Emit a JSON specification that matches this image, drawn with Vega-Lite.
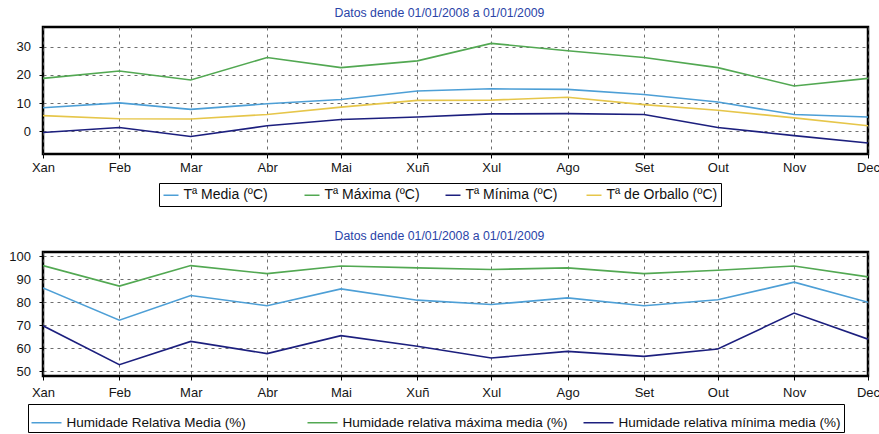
{
  "$schema": "https://vega.github.io/schema/vega-lite/v6.json",
  "padding": {"left": 7, "top": 5, "right": 0, "bottom": 0},
  "background": "white",
  "columns": 1,
  "spacing": 20,
  "datasets": {
    "temp": [
      {"date": "2008-01-01", "serie": "Tª Media  (ºC)", "valor": 8.4},
      {"date": "2008-02-01", "serie": "Tª Media  (ºC)", "valor": 10.1},
      {"date": "2008-03-01", "serie": "Tª Media  (ºC)", "valor": 7.8},
      {"date": "2008-04-01", "serie": "Tª Media  (ºC)", "valor": 9.8},
      {"date": "2008-05-01", "serie": "Tª Media  (ºC)", "valor": 11.3},
      {"date": "2008-06-01", "serie": "Tª Media  (ºC)", "valor": 14.3},
      {"date": "2008-07-01", "serie": "Tª Media  (ºC)", "valor": 15.1},
      {"date": "2008-08-01", "serie": "Tª Media  (ºC)", "valor": 14.9},
      {"date": "2008-09-01", "serie": "Tª Media  (ºC)", "valor": 13.1},
      {"date": "2008-10-01", "serie": "Tª Media  (ºC)", "valor": 10.4},
      {"date": "2008-11-01", "serie": "Tª Media  (ºC)", "valor": 6.0},
      {"date": "2008-12-01", "serie": "Tª Media  (ºC)", "valor": 5.1},
      {"date": "2008-01-01", "serie": "Tª Máxima  (ºC)", "valor": 18.8},
      {"date": "2008-02-01", "serie": "Tª Máxima  (ºC)", "valor": 21.4},
      {"date": "2008-03-01", "serie": "Tª Máxima  (ºC)", "valor": 18.2},
      {"date": "2008-04-01", "serie": "Tª Máxima  (ºC)", "valor": 26.2},
      {"date": "2008-05-01", "serie": "Tª Máxima  (ºC)", "valor": 22.6},
      {"date": "2008-06-01", "serie": "Tª Máxima  (ºC)", "valor": 25.0},
      {"date": "2008-07-01", "serie": "Tª Máxima  (ºC)", "valor": 31.2},
      {"date": "2008-08-01", "serie": "Tª Máxima  (ºC)", "valor": 28.6},
      {"date": "2008-09-01", "serie": "Tª Máxima  (ºC)", "valor": 26.2},
      {"date": "2008-10-01", "serie": "Tª Máxima  (ºC)", "valor": 22.6},
      {"date": "2008-11-01", "serie": "Tª Máxima  (ºC)", "valor": 16.1},
      {"date": "2008-12-01", "serie": "Tª Máxima  (ºC)", "valor": 18.8},
      {"date": "2008-01-01", "serie": "Tª Mínima  (ºC)", "valor": -0.4},
      {"date": "2008-02-01", "serie": "Tª Mínima  (ºC)", "valor": 1.4},
      {"date": "2008-03-01", "serie": "Tª Mínima  (ºC)", "valor": -1.8},
      {"date": "2008-04-01", "serie": "Tª Mínima  (ºC)", "valor": 2.0},
      {"date": "2008-05-01", "serie": "Tª Mínima  (ºC)", "valor": 4.2},
      {"date": "2008-06-01", "serie": "Tª Mínima  (ºC)", "valor": 5.1},
      {"date": "2008-07-01", "serie": "Tª Mínima  (ºC)", "valor": 6.2},
      {"date": "2008-08-01", "serie": "Tª Mínima  (ºC)", "valor": 6.3},
      {"date": "2008-09-01", "serie": "Tª Mínima  (ºC)", "valor": 6.0},
      {"date": "2008-10-01", "serie": "Tª Mínima  (ºC)", "valor": 1.4},
      {"date": "2008-11-01", "serie": "Tª Mínima  (ºC)", "valor": -1.5},
      {"date": "2008-12-01", "serie": "Tª Mínima  (ºC)", "valor": -4.1},
      {"date": "2008-01-01", "serie": "Tª de Orballo (ºC)", "valor": 5.6},
      {"date": "2008-02-01", "serie": "Tª de Orballo (ºC)", "valor": 4.5},
      {"date": "2008-03-01", "serie": "Tª de Orballo (ºC)", "valor": 4.4},
      {"date": "2008-04-01", "serie": "Tª de Orballo (ºC)", "valor": 6.0},
      {"date": "2008-05-01", "serie": "Tª de Orballo (ºC)", "valor": 8.6},
      {"date": "2008-06-01", "serie": "Tª de Orballo (ºC)", "valor": 11.0},
      {"date": "2008-07-01", "serie": "Tª de Orballo (ºC)", "valor": 11.1},
      {"date": "2008-08-01", "serie": "Tª de Orballo (ºC)", "valor": 12.1},
      {"date": "2008-09-01", "serie": "Tª de Orballo (ºC)", "valor": 9.5},
      {"date": "2008-10-01", "serie": "Tª de Orballo (ºC)", "valor": 7.5},
      {"date": "2008-11-01", "serie": "Tª de Orballo (ºC)", "valor": 4.8},
      {"date": "2008-12-01", "serie": "Tª de Orballo (ºC)", "valor": 2.0}
    ],
    "hum": [
      {"date": "2008-01-01", "serie": "Humidade Relativa Media (%)", "valor": 86.2},
      {"date": "2008-02-01", "serie": "Humidade Relativa Media (%)", "valor": 72.2},
      {"date": "2008-03-01", "serie": "Humidade Relativa Media (%)", "valor": 82.9},
      {"date": "2008-04-01", "serie": "Humidade Relativa Media (%)", "valor": 78.5},
      {"date": "2008-05-01", "serie": "Humidade Relativa Media (%)", "valor": 85.8},
      {"date": "2008-06-01", "serie": "Humidade Relativa Media (%)", "valor": 80.9},
      {"date": "2008-07-01", "serie": "Humidade Relativa Media (%)", "valor": 79.0},
      {"date": "2008-08-01", "serie": "Humidade Relativa Media (%)", "valor": 81.9},
      {"date": "2008-09-01", "serie": "Humidade Relativa Media (%)", "valor": 78.5},
      {"date": "2008-10-01", "serie": "Humidade Relativa Media (%)", "valor": 81.1},
      {"date": "2008-11-01", "serie": "Humidade Relativa Media (%)", "valor": 88.7},
      {"date": "2008-12-01", "serie": "Humidade Relativa Media (%)", "valor": 80.0},
      {"date": "2008-01-01", "serie": "Humidade relativa máxima media (%)", "valor": 95.9},
      {"date": "2008-02-01", "serie": "Humidade relativa máxima media (%)", "valor": 87.0},
      {"date": "2008-03-01", "serie": "Humidade relativa máxima media (%)", "valor": 95.9},
      {"date": "2008-04-01", "serie": "Humidade relativa máxima media (%)", "valor": 92.4},
      {"date": "2008-05-01", "serie": "Humidade relativa máxima media (%)", "valor": 95.7},
      {"date": "2008-06-01", "serie": "Humidade relativa máxima media (%)", "valor": 94.9},
      {"date": "2008-07-01", "serie": "Humidade relativa máxima media (%)", "valor": 94.2},
      {"date": "2008-08-01", "serie": "Humidade relativa máxima media (%)", "valor": 94.9},
      {"date": "2008-09-01", "serie": "Humidade relativa máxima media (%)", "valor": 92.4},
      {"date": "2008-10-01", "serie": "Humidade relativa máxima media (%)", "valor": 93.9},
      {"date": "2008-11-01", "serie": "Humidade relativa máxima media (%)", "valor": 95.7},
      {"date": "2008-12-01", "serie": "Humidade relativa máxima media (%)", "valor": 91.0},
      {"date": "2008-01-01", "serie": "Humidade relativa mínima media (%)", "valor": 69.8},
      {"date": "2008-02-01", "serie": "Humidade relativa mínima media (%)", "valor": 52.9},
      {"date": "2008-03-01", "serie": "Humidade relativa mínima media (%)", "valor": 63.0},
      {"date": "2008-04-01", "serie": "Humidade relativa mínima media (%)", "valor": 57.7},
      {"date": "2008-05-01", "serie": "Humidade relativa mínima media (%)", "valor": 65.5},
      {"date": "2008-06-01", "serie": "Humidade relativa mínima media (%)", "valor": 60.9},
      {"date": "2008-07-01", "serie": "Humidade relativa mínima media (%)", "valor": 55.8},
      {"date": "2008-08-01", "serie": "Humidade relativa mínima media (%)", "valor": 58.7},
      {"date": "2008-09-01", "serie": "Humidade relativa mínima media (%)", "valor": 56.5},
      {"date": "2008-10-01", "serie": "Humidade relativa mínima media (%)", "valor": 59.7},
      {"date": "2008-11-01", "serie": "Humidade relativa mínima media (%)", "valor": 75.3},
      {"date": "2008-12-01", "serie": "Humidade relativa mínima media (%)", "valor": 64.0}
    ]
  },
  "resolve": {"scale": {"color": "independent", "x": "independent", "y": "independent"}, "legend": {"color": "independent"}},
  "concat": [
    {
      "width": 825,
      "height": 127,
      "data": {"name": "temp"},
      "title": {"text": "Datos dende 01/01/2008 a 01/01/2009", "dx": -16},
      "mark": {"type": "line", "strokeWidth": 1.6, "clip": true},
      "encoding": {
        "x": {
          "field": "date", "type": "temporal", "title": null,
          "scale": {"type": "utc", "domain": [{"year": 2008, "month": 1, "date": 1, "utc": true}, {"year": 2008, "month": 12, "date": 1, "utc": true}]},
          "axis": {"tickCount": {"interval": "month", "step": 1}, "labelPadding": 3.5, "labelExpr": "['Xan','Feb','Mar','Abr','Mai','Xuñ','Xul','Ago','Set','Out','Nov','Dec'][utcmonth(datum.value)]"}
        },
        "y": {
          "field": "valor", "type": "quantitative", "title": null,
          "scale": {"domain": [-8, 37], "nice": false, "zero": false},
          "axis": {"values": [0, 10, 20, 30]}
        },
        "color": {
          "field": "serie", "type": "nominal",
          "scale": {"domain": ["Tª Media  (ºC)", "Tª Máxima  (ºC)", "Tª Mínima  (ºC)", "Tª de Orballo (ºC)"], "range": ["#4d9fd6", "#52a852", "#1c1f7e", "#e6c64a"]},
          "legend": {"orient": "none", "legendX": 116, "legendY": 156, "columns": 4, "gridAlign": "all", "symbolSize": 225, "columnPadding": 7, "labelFontSize": 14, "padding": 3.5}
        }
      }
    },
    {
      "width": 825,
      "height": 124,
      "data": {"name": "hum"},
      "title": {"text": "Datos dende 01/01/2008 a 01/01/2009", "dx": -16},
      "mark": {"type": "line", "strokeWidth": 1.6, "clip": true},
      "encoding": {
        "x": {
          "field": "date", "type": "temporal", "title": null,
          "scale": {"type": "utc", "domain": [{"year": 2008, "month": 1, "date": 1, "utc": true}, {"year": 2008, "month": 12, "date": 1, "utc": true}]},
          "axis": {"tickCount": {"interval": "month", "step": 1}, "labelPadding": 6, "labelExpr": "['Xan','Feb','Mar','Abr','Mai','Xuñ','Xul','Ago','Set','Out','Nov','Dec'][utcmonth(datum.value)]"}
        },
        "y": {
          "field": "valor", "type": "quantitative", "title": null,
          "scale": {"domain": [48, 101.8], "nice": false, "zero": false},
          "axis": {"values": [50, 60, 70, 80, 90, 100]}
        },
        "color": {
          "field": "serie", "type": "nominal",
          "scale": {"domain": ["Humidade Relativa Media (%)", "Humidade relativa máxima media (%)", "Humidade relativa mínima media (%)"], "range": ["#4d9fd6", "#52a852", "#1c1f7e"]},
          "legend": {"orient": "none", "legendX": -15, "legendY": 152, "columns": 3, "gridAlign": "all", "symbolSize": 900, "columnPadding": 12, "labelFontSize": 13.5, "padding": 2.5}
        }
      }
    }
  ],
  "config": {
    "font": "Liberation Sans",
    "view": {"stroke": "#000", "strokeWidth": 2.5},
    "title": {"fontSize": 12.3, "fontWeight": "normal", "color": "#2a44a8", "offset": 8, "anchor": "middle", "frame": "group"},
    "axis": {
      "domain": false,
      "labelFontSize": 13,
      "labelColor": "#151515",
      "tickColor": "#000",
      "tickSize": 4,
      "grid": true,
      "gridColor": "#555",
      "gridDash": [3, 4],
      "gridWidth": 1,
      "gridOpacity": 0.85
    },
    "axisY": {"labelPadding": 8.5},
    "axisX": {"labelFlush": false},
    "legend": {
      "direction": "horizontal",
      "title": null,
      "symbolType": "stroke",
      "symbolStrokeWidth": 1.5,
      "labelColor": "#111",
      "strokeColor": "#000",
      "fillColor": "#fff",
      "labelLimit": 400
    }
  }
}
